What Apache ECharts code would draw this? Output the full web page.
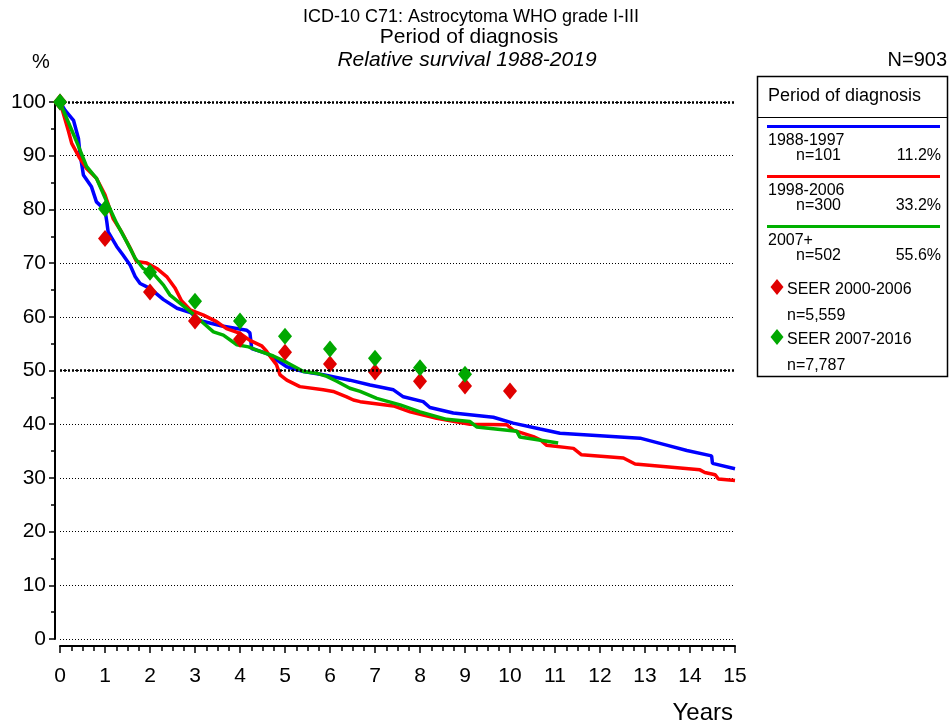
<!DOCTYPE html>
<html>
<head>
<meta charset="utf-8">
<script src="https://cdn.jsdelivr.net/npm/echarts@6/dist/echarts.min.js"></script>
<style>html,body{margin:0;padding:0;background:#fff}#c{width:951px;height:726px}</style>
</head>
<body>
<div id="c"></div>
<script>
var titleLines = ['ICD-10 C71: Astrocytoma WHO grade I-III', 'Period of diagnosis', 'Relative survival 1988-2019'];
var xTicks = [0, 15, 1];
var yTicks = [0, 100, 10];

var blue8897 = [[0,100],[0.11,98.5],[0.3,96.6],[0.41,93.2],[0.44,90.7],[0.52,86.4],[0.7,84.2],[0.81,81.4],[1.0,79.9],[1.04,77.7],[1.07,75.8],[1.26,73.1],[1.4,71.5],[1.56,69.6],[1.67,67.5],[1.78,66.2],[2.0,65.3],[2.3,63.2],[2.6,61.6],[2.9,60.8],[3.1,59.3],[3.6,58.3],[4.15,57.5],[4.22,57.0],[4.26,54.1],[4.59,53.2],[4.81,52.0],[5.04,50.7],[5.41,49.8],[5.85,49.2],[6.44,48.2],[6.89,47.3],[7.41,46.4],[7.63,45.1],[8.07,44.2],[8.22,43.1],[8.74,42.1],[9.63,41.3],[10.07,40.2],[10.67,39.1],[11.11,38.3],[12.89,37.4],[13.48,36.1],[13.93,35.1],[14.48,34.1],[14.5,32.7],[15,31.7]];
var red9806 = [[0,100],[0.19,94.5],[0.26,92.3],[0.44,89.5],[0.59,87.6],[0.81,85.8],[1.0,82.7],[1.18,78.3],[1.37,75.8],[1.56,72.8],[1.7,70.3],[1.93,70.0],[2.15,69.0],[2.37,67.5],[2.56,65.3],[2.7,63.0],[2.89,61.3],[3.19,60.3],[3.48,59.1],[3.7,57.8],[4.0,56.9],[4.22,55.6],[4.48,54.6],[4.59,53.6],[4.7,52.3],[4.81,51.1],[4.89,49.2],[5.04,48.2],[5.33,47.0],[5.85,46.4],[6.07,46.1],[6.37,45.1],[6.52,44.5],[6.67,44.2],[7.41,43.4],[7.78,42.3],[8.37,41.1],[9.11,40.0],[9.93,39.9],[10.07,38.9],[10.52,37.7],[10.67,37.1],[10.81,36.1],[11.41,35.5],[11.59,34.3],[12.52,33.7],[12.78,32.6],[14.22,31.5],[14.33,31.0],[14.56,30.6],[14.63,29.8],[15,29.5]];
var green07 = [[0,100],[0.07,98.5],[0.37,92.6],[0.59,88.0],[0.81,85.8],[1.04,81.4],[1.26,77.4],[1.48,74.0],[1.67,70.9],[1.85,69.0],[2.07,68.1],[2.3,65.9],[2.44,64.1],[2.7,62.3],[2.89,61.0],[3.19,58.8],[3.41,57.2],[3.63,56.6],[3.93,54.8],[4.19,54.4],[4.37,53.8],[4.74,52.7],[5.04,51.5],[5.41,49.8],[5.7,49.5],[5.93,48.9],[6.15,48.0],[6.44,46.7],[6.67,46.1],[7.04,44.8],[7.56,43.6],[8.0,42.3],[8.59,40.9],[9.11,40.5],[9.26,39.5],[10.15,38.7],[10.22,37.6],[11.07,36.5]];
var seer0006 = [[0,100],[1,74.6],[2,64.6],[3,59.2],[4,55.8],[5,53.4],[6,51.2],[7,49.7],[8,48.0],[9,47.1],[10,46.2]];
var seer0716 = [[0,100],[1,80.1],[2,68.3],[3,62.9],[4,59.2],[5,56.4],[6,54.0],[7,52.3],[8,50.5],[9,49.3]];

var legendRows = [
  {label:'1988-1997', n:'n=101', pct:'11.2%', color:'#0000ff'},
  {label:'1998-2006', n:'n=300', pct:'33.2%', color:'#ff0000'},
  {label:'2007+', n:'n=502', pct:'55.6%', color:'#00b000'}
];
var seerRows = [
  {label:'SEER 2000-2006', n:'n=5,559', color:'#e00000'},
  {label:'SEER 2007-2016', n:'n=7,787', color:'#00a800'}
];

var FONT = "'Liberation Sans', Arial, sans-serif";
var chart = echarts.init(document.getElementById('c'), null, {renderer:'canvas'});

var g = [];
g.push({type:'text', style:{x:471, y:17, text:titleLines[0], font:'18px '+FONT, fill:'#000', textAlign:'center', textVerticalAlign:'middle'}});
g.push({type:'text', style:{x:469, y:37, text:titleLines[1], font:'21px '+FONT, fill:'#000', textAlign:'center', textVerticalAlign:'middle'}});
g.push({type:'text', style:{x:467, y:60, text:titleLines[2], font:'italic 21px '+FONT, fill:'#000', textAlign:'center', textVerticalAlign:'middle'}});
g.push({type:'text', style:{x:41, y:62, text:'%', font:'20px '+FONT, fill:'#000', textAlign:'center', textVerticalAlign:'middle'}});
g.push({type:'text', style:{x:947, y:60, text:'N=903', font:'20px '+FONT, fill:'#000', textAlign:'right', textVerticalAlign:'middle'}});
g.push({type:'text', style:{x:733, y:713, text:'Years', font:'24px '+FONT, fill:'#000', textAlign:'right', textVerticalAlign:'middle'}});
// legend box
g.push({type:'rect', shape:{x:757.5, y:76.5, width:190, height:300}, style:{fill:'#fff', stroke:'#000', lineWidth:1.5}});
g.push({type:'text', style:{x:768, y:96, text:'Period of diagnosis', font:'18px '+FONT, fill:'#000', textVerticalAlign:'middle'}});
g.push({type:'line', shape:{x1:757, y1:117.5, x2:947, y2:117.5}, style:{stroke:'#000', lineWidth:1}});
legendRows.forEach(function(r, i){
  var y0 = 126.5 + i*50;
  g.push({type:'line', shape:{x1:767, y1:y0, x2:940, y2:y0}, style:{stroke:r.color, lineWidth:3}});
  g.push({type:'text', style:{x:768, y:y0+14.5, text:r.label, font:'16px '+FONT, fill:'#000', textVerticalAlign:'middle'}});
  g.push({type:'text', style:{x:796, y:y0+29.5, text:r.n, font:'16px '+FONT, fill:'#000', textVerticalAlign:'middle'}});
  g.push({type:'text', style:{x:941, y:y0+29.5, text:r.pct, font:'16px '+FONT, fill:'#000', textAlign:'right', textVerticalAlign:'middle'}});
});
seerRows.forEach(function(r, i){
  var cy = 287 + i*50;
  g.push({type:'polygon', shape:{points:[[777,cy-8],[783.5,cy],[777,cy+8],[770.5,cy]]}, style:{fill:r.color}});
  g.push({type:'text', style:{x:787, y:cy+3, text:r.label, font:'16px '+FONT, fill:'#000', textVerticalAlign:'middle'}});
  g.push({type:'text', style:{x:787, y:cy+29, text:r.n, font:'16px '+FONT, fill:'#000', textVerticalAlign:'middle'}});
});

var option = {
  animation:false,
  backgroundColor:'#fff',
  textStyle:{fontFamily:FONT},
  grid:{left:60, top:102, width:675, height:537, containLabel:false},
  xAxis:{
    type:'value', min:xTicks[0], max:xTicks[1], interval:xTicks[2], offset:7,
    axisLine:{show:true, onZero:false, lineStyle:{color:'#000', width:2}},
    axisTick:{show:true, length:7, lineStyle:{color:'#000', width:1.5}},
    minorTick:{show:true, splitNumber:4, length:5, lineStyle:{color:'#000', width:1.5}},
    axisLabel:{color:'#000', fontSize:21, fontFamily:FONT, margin:20},
    splitLine:{show:false}
  },
  yAxis:{
    type:'value', min:yTicks[0], max:yTicks[1], interval:yTicks[2], offset:5,
    axisLine:{show:true, onZero:false, lineStyle:{color:'#000', width:2}},
    axisTick:{show:true, length:6, lineStyle:{color:'#000', width:1.5}},
    minorTick:{show:true, splitNumber:2, length:4, lineStyle:{color:'#000', width:1.5}},
    axisLabel:{color:'#000', fontSize:21, fontFamily:FONT, margin:9},
    splitLine:{show:true, lineStyle:{color:'#000', width:1, type:[1,2]}}
  },
  graphic:g,
  series:[
    {type:'line', data:[], z:1, silent:true,
     markLine:{silent:true, symbol:['none','none'], label:{show:false}, lineStyle:{color:'#000', width:2.5, type:[2,2]}, data:[{yAxis:50},{yAxis:100}]}},
    {name:'1988-1997', type:'line', data:blue8897, showSymbol:false, z:3, lineStyle:{color:'#0000ff', width:3.5}, itemStyle:{color:'#0000ff'}},
    {name:'1998-2006', type:'line', data:red9806, showSymbol:false, z:3, lineStyle:{color:'#ff0000', width:3.5}, itemStyle:{color:'#ff0000'}},
    {name:'2007+', type:'line', data:green07, showSymbol:false, z:3, lineStyle:{color:'#00b000', width:3.5}, itemStyle:{color:'#00b000'}},
    {name:'SEER 2000-2006', type:'scatter', data:seer0006, symbol:'diamond', symbolSize:[14,17], z:4, itemStyle:{color:'#e00000', opacity:1}},
    {name:'SEER 2007-2016', type:'scatter', data:seer0716, symbol:'diamond', symbolSize:[14,17], z:5, itemStyle:{color:'#00a800', opacity:1}}
  ]
};
chart.setOption(option);
</script>
</body>
</html>
